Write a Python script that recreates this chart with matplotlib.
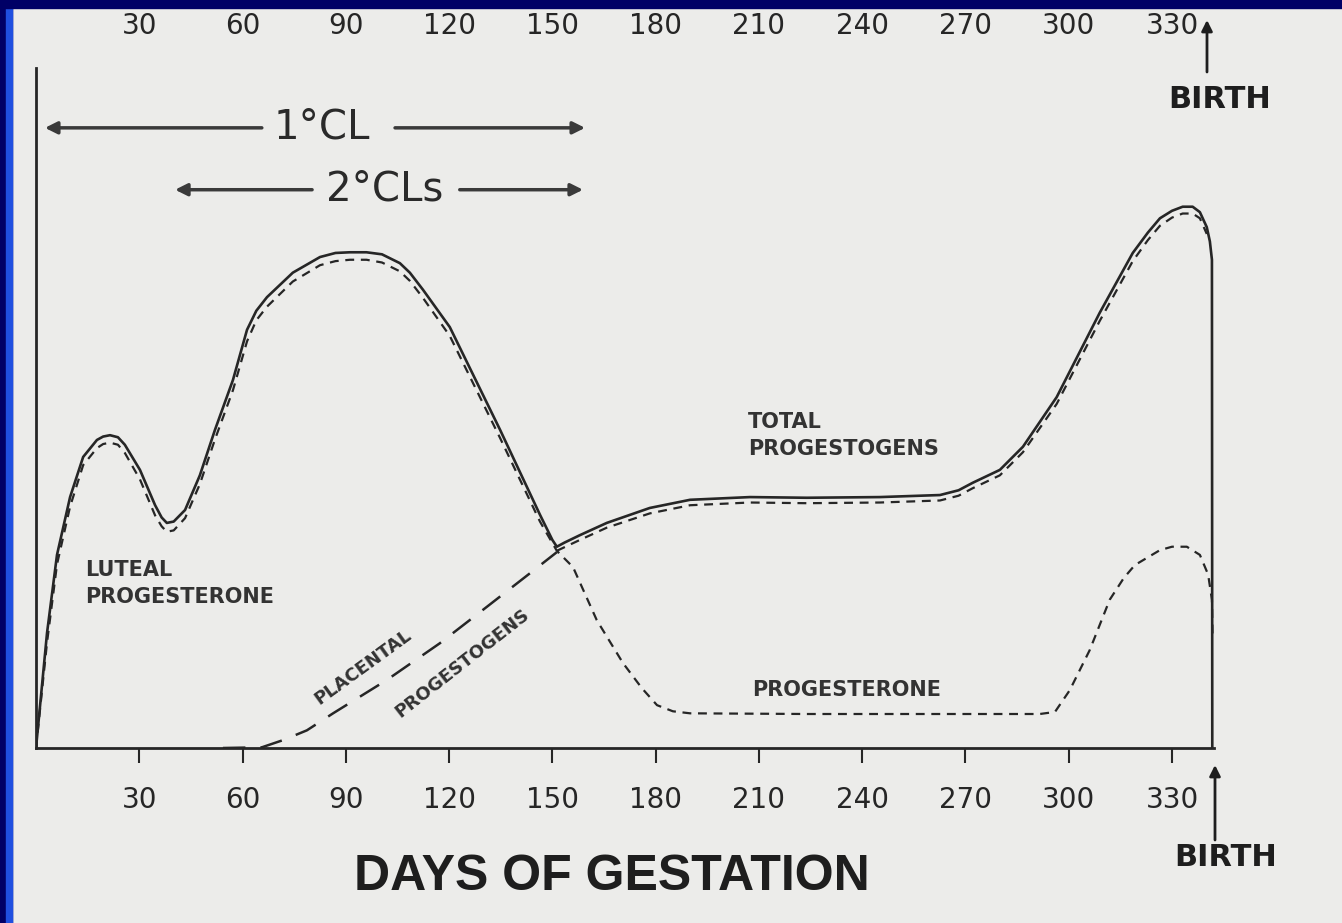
import matplotlib
matplotlib.use('Agg')
import matplotlib.pyplot as plt
from matplotlib.patches import Rectangle

# tick positions (days)
day_ticks = [30, 60, 90, 120, 150, 180, 210, 240, 270, 300, 330]

# total progestogens (solid line), arbitrary units 0-100
total_days = [0, 3.2, 6.1, 9.9, 13.7, 17.7, 19.5, 21.5, 23.8, 25.8, 30.2, 34.6, 36.5,
              38.0, 40.0, 43.3, 47.6, 52.0, 57.2, 61.3, 64.0, 67.1, 74.6, 82.5, 87.0,
              91.2, 96.0, 100.5, 105.7, 108.6, 112.4, 120.2, 134.8, 146.4, 150.0,
              151.3, 153.5, 158.0, 165.8, 178.3, 190.0, 207.4, 223.9, 245.1, 262.6,
              268.0, 272.1, 280.0, 286.7, 296.5, 309.0, 318.6, 323.0, 326.5, 330.0,
              333.1, 336.0, 338.1, 340.1, 341.0, 341.6, 341.7]
total_vals = [0, 16.9, 28.4, 36.9, 42.8, 45.3, 45.8, 46.0, 45.7, 44.6, 40.9, 35.7, 33.9,
              33.1, 33.3, 35.0, 40.1, 46.8, 54.1, 61.5, 64.3, 66.3, 69.9, 72.2, 72.8,
              72.9, 72.9, 72.6, 71.3, 69.9, 67.4, 61.9, 46.8, 34.3, 30.6,
              29.6, 30.2, 31.3, 33.1, 35.3, 36.5, 36.9, 36.8, 36.9, 37.2,
              37.9, 39.0, 40.9, 44.3, 51.6, 64.0, 72.8, 75.8, 77.9, 79.0,
              79.6, 79.6, 78.8, 76.6, 74.5, 71.8, 0]

# second (dashed) trace along total progestogens after day 150
total2_days = [151.3, 158.0, 165.8, 178.3, 190.0, 207.4, 223.9, 245.1, 262.6, 268.0,
               272.1, 280.0, 286.7, 296.5, 309.0, 318.6, 323.0, 326.5, 330.0, 333.1,
               336.0, 338.1, 340.1]
total2_vals = [29.0, 30.6, 32.4, 34.5, 35.7, 36.1, 36.0, 36.1, 36.4, 37.1,
               38.2, 40.1, 43.5, 50.6, 62.8, 71.6, 74.7, 76.8, 78.0, 78.6,
               78.6, 77.9, 75.6]

# luteal progesterone then progesterone (dashed)
prog_days = [0, 3.2, 6.1, 9.9, 13.7, 17.7, 19.5, 21.5, 23.8, 25.8, 30.2, 34.6, 36.5,
             38.0, 40.0, 43.3, 47.6, 52.0, 57.2, 61.3, 64.0, 67.1, 74.6, 82.5, 87.0,
             91.2, 96.0, 100.5, 105.7, 108.6, 112.4, 120.2, 134.8, 146.4, 151.3,
             156.0, 162.9, 170.5, 176.0, 180.4, 185.0, 190.0, 223.9, 291.6, 296.0,
             300.3, 306.1, 311.9, 316.0, 319.2, 326.5, 330.0, 334.3, 338.1, 340.5,
             341.6, 341.8]
prog_vals = [0, 15.5, 27.0, 35.5, 41.6, 44.1, 44.7, 44.9, 44.6, 43.4, 39.5, 34.2, 32.6,
             31.8, 32.0, 33.8, 38.8, 45.4, 52.6, 59.8, 62.9, 64.9, 68.6, 71.0, 71.6,
             71.8, 71.8, 71.4, 70.1, 68.7, 66.2, 60.6, 45.6, 33.3, 29.0,
             26.6, 18.8, 12.5, 8.8, 6.3, 5.4, 5.1, 5.0, 5.0, 5.3,
             8.5, 14.4, 21.8, 25.0, 26.9, 29.1, 29.6, 29.6, 28.4, 25.5,
             21.8, 15.9]

# placental progestogens (long dashes)
plac_days = [54.3, 65.6, 72.0, 78.7, 86.3, 101.9, 117.3, 129.8, 143.5, 151.3]
plac_vals = [0, 0.1, 1.2, 2.6, 5.1, 10.0, 15.4, 20.3, 25.7, 28.8]

ink = '#262626'
W, H = 1342, 923

plt.rcParams['font.family'] = 'DejaVu Sans'
fig = plt.figure(figsize=(13.42, 9.23), dpi=100, facecolor='#ececea')

# slide frame
fig.add_artist(Rectangle((0, 0), 12 / W, 1, transform=fig.transFigure, color='#000066', zorder=0))
fig.add_artist(Rectangle((6 / W, 0), 6 / W, 1 - 8 / H, transform=fig.transFigure, color='#1f4fe0', zorder=0))
fig.add_artist(Rectangle((0, 1 - 8 / H), 1, 8 / H, transform=fig.transFigure, color='#000066', zorder=0))

ax = fig.add_axes([36 / W, (H - 748) / H, (1214 - 36) / W, 680 / H])
ax.set_facecolor('none')

ax.plot(total_days, total_vals, color=ink, lw=1.9, solid_joinstyle='round')
ax.plot(total2_days, total2_vals, color=ink, lw=1.6, dashes=(4, 3))
ax.plot(prog_days, prog_vals, color=ink, lw=1.6, dashes=(4, 3))
ax.plot(plac_days, plac_vals, color=ink, lw=1.8, dashes=(9, 6))

ax.set_xlim(0, 342.2)
ax.set_ylim(0, 100)
for s in ['top', 'right']:
    ax.spines[s].set_visible(False)
for s in ['left', 'bottom']:
    ax.spines[s].set_color(ink)
    ax.spines[s].set_linewidth(2)

ax.set_xticks(day_ticks)
ax.set_yticks([])
ax.tick_params(axis='x', direction='out', length=11, width=1.5, pad=16,
               labelsize=20, colors=ink)

top = ax.secondary_xaxis('top')
top.set_xticks(day_ticks)
top.tick_params(length=0, pad=20, labelsize=20, colors=ink)
top.spines['top'].set_visible(False)

# corpus luteum arrows
arrow = dict(arrowstyle='-|>', lw=2.5, color='#3a3a3a', mutation_scale=18, shrinkA=0, shrinkB=0)
ax.annotate('', xy=(2.6, 91.2), xytext=(65.6, 91.2), arrowprops=arrow)
ax.annotate('', xy=(159.5, 91.2), xytext=(104.3, 91.2), arrowprops=arrow)
ax.text(83.1, 91.2, '1°CL', fontsize=29, color='#2a2a2a', ha='center', va='center')
ax.annotate('', xy=(40.4, 82.1), xytext=(80.2, 82.1), arrowprops=arrow)
ax.annotate('', xy=(158.9, 82.1), xytext=(123.1, 82.1), arrowprops=arrow)
ax.text(101.4, 82.1, '2°CLs', fontsize=29, color='#2a2a2a', ha='center', va='center')

lab = dict(fontsize=15, color='#333333', fontweight='bold', linespacing=1.45)
ax.text(14.2, 24.2, 'LUTEAL\nPROGESTERONE', ha='left', va='center', **lab)
ax.text(206.8, 46.0, 'TOTAL\nPROGESTOGENS', ha='left', va='center', **lab)
ax.text(208.0, 8.5, 'PROGESTERONE', ha='left', va='center', **lab)
ax.text(95.0, 11.9, 'PLACENTAL', ha='center', va='center', rotation=36,
        rotation_mode='anchor', fontsize=13, color='#333333', fontweight='bold')
ax.text(123.7, 12.5, 'PROGESTOGENS', ha='center', va='center', rotation=38,
        rotation_mode='anchor', fontsize=13, color='#333333', fontweight='bold')

# x-axis title and birth markers
fig.text(612 / W, 1 - 877 / H, 'DAYS OF GESTATION', fontsize=36, fontweight='bold',
         family='Liberation Sans', color='#1e1e1e', ha='center', va='center')
fig.text(1220 / W, 1 - 100 / H, 'BIRTH', fontsize=22, fontweight='bold',
         color='#1e1e1e', ha='center', va='center')
fig.text(1226 / W, 1 - 858 / H, 'BIRTH', fontsize=22, fontweight='bold',
         color='#1e1e1e', ha='center', va='center')
barrow = dict(arrowstyle='-|>', lw=2, color='#1e1e1e', mutation_scale=16, shrinkA=0, shrinkB=0)
ax.annotate('', xy=(1207 / W, 1 - 20 / H), xytext=(1207 / W, 1 - 72 / H),
            xycoords='figure fraction', textcoords='figure fraction', arrowprops=barrow)
ax.annotate('', xy=(1215 / W, 1 - 765 / H), xytext=(1215 / W, 1 - 840 / H),
            xycoords='figure fraction', textcoords='figure fraction', arrowprops=barrow)

fig.savefig('out.png', dpi=100, facecolor=fig.get_facecolor())
